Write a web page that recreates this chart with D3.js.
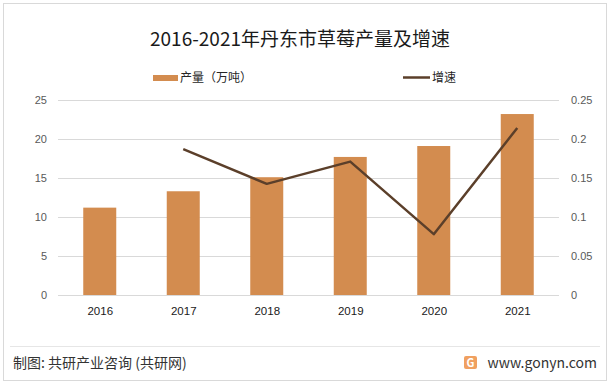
<!DOCTYPE html>
<html>
<head>
<meta charset="utf-8">
<script src="https://cdn.jsdelivr.net/npm/d3@7"></script>
<style>
  body { margin: 0; background: #fff; }
  svg { display: block; font-family: "Noto Sans CJK SC", "Noto Sans", sans-serif; }
</style>
</head>
<body>
<div id="chart"></div>
<script>
// data
var years = ["2016", "2017", "2018", "2019", "2020", "2021"];
var output = [11.2, 13.3, 15.1, 17.7, 19.1, 23.2];          // 产量（万吨）
var growth = [null, 0.187, 0.1425, 0.171, 0.078, 0.214];    // 增速
var leftTicks = [0, 5, 10, 15, 20, 25];
var rightTicks = [0, 0.05, 0.1, 0.15, 0.2, 0.25];

var W = 611, H = 384;
var margin = {top: 100, right: 52, bottom: 89, left: 58},
    width = W - margin.left - margin.right,
    height = H - margin.top - margin.bottom;

var barColor = "#d38c4f", lineColor = "#5b3f2a";

var root = d3.select("#chart").append("svg")
    .attr("width", W)
    .attr("height", H);

// outer frame
root.append("rect")
    .attr("x", 3.5).attr("y", 3.5)
    .attr("width", 603).attr("height", 377)
    .attr("fill", "none")
    .attr("stroke", "#d9d9d9");

// title
root.append("text")
    .attr("x", 300).attr("y", 46)
    .attr("text-anchor", "middle")
    .style("font-size", "19px")
    .attr("fill", "#1a1a1a")
    .text("2016-2021年丹东市草莓产量及增速");

// legend
root.append("rect")
    .attr("x", 153).attr("y", 75)
    .attr("width", 25).attr("height", 6)
    .attr("fill", barColor);
root.append("text")
    .attr("x", 180).attr("y", 82)
    .style("font-size", "12px")
    .attr("fill", "#262626")
    .text("产量（万吨）");
root.append("line")
    .attr("x1", 403).attr("x2", 430)
    .attr("y1", 77.5).attr("y2", 77.5)
    .attr("stroke", lineColor)
    .attr("stroke-width", 2.5);
root.append("text")
    .attr("x", 432).attr("y", 82)
    .style("font-size", "12px")
    .attr("fill", "#262626")
    .text("增速");

var svg = root.append("g")
    .attr("transform", "translate(" + margin.left + "," + margin.top + ")");

var xc = d3.scalePoint()
    .domain(years)
    .range([0, width])
    .padding(0.5);

var y = d3.scaleLinear().domain([0, 25]).range([height, 0]);
var y2 = d3.scaleLinear().domain([0, 0.25]).range([height, 0]);

// gridlines
svg.append("g")
    .selectAll("line")
    .data(leftTicks)
    .enter().append("line")
    .attr("x1", 0).attr("x2", width)
    .attr("y1", function (d) { return Math.round(y(d)) + 0.5; })
    .attr("y2", function (d) { return Math.round(y(d)) + 0.5; })
    .attr("stroke", "#d9d9d9");

// left axis
var yAxis = svg.append("g")
    .call(d3.axisLeft(y).tickValues(leftTicks).tickSize(0).tickPadding(11));
yAxis.select(".domain").remove();
yAxis.selectAll("text").style("font-size", "11px").attr("fill", "#595959");

// right axis
var yAxis2 = svg.append("g")
    .attr("transform", "translate(" + width + ",0)")
    .call(d3.axisRight(y2).tickValues(rightTicks).tickSize(0).tickPadding(12)
        .tickFormat(function (d) { return d3.format("~g")(d); }));
yAxis2.select(".domain").remove();
yAxis2.selectAll("text").style("font-size", "11px").attr("fill", "#595959");

// bars
svg.selectAll("rect.bar")
    .data(years)
    .enter().append("rect")
    .attr("class", "bar")
    .attr("x", function (d) { return xc(d) - 16.5; })
    .attr("width", 33)
    .attr("y", function (d, i) { return y(output[i]); })
    .attr("height", function (d, i) { return height - y(output[i]); })
    .attr("fill", barColor);

// x axis
var xAxis = svg.append("g")
    .attr("transform", "translate(0," + height + ")")
    .call(d3.axisBottom(xc).tickSize(0).tickPadding(12));
xAxis.select(".domain").remove();
xAxis.selectAll("text").style("font-size", "11.5px").attr("fill", "#1a1a1a");

// growth line
var line = d3.line()
    .defined(function (d) { return d.v != null; })
    .x(function (d) { return xc(d.k); })
    .y(function (d) { return y2(d.v); });
svg.append("path")
    .datum(years.map(function (k, i) { return {k: k, v: growth[i]}; }))
    .attr("d", line)
    .attr("fill", "none")
    .attr("stroke", lineColor)
    .attr("stroke-width", 2.5)
    .attr("stroke-linejoin", "round");

// footer
root.append("line")
    .attr("x1", 10).attr("x2", 600)
    .attr("y1", 346.5).attr("y2", 346.5)
    .attr("stroke", "#e6e6e6");
root.append("text")
    .attr("x", 13).attr("y", 368)
    .style("font-size", "14px")
    .attr("fill", "#333")
    .text("制图: 共研产业咨询 (共研网)");
// small logo
root.append("rect")
    .attr("x", 464).attr("y", 356)
    .attr("width", 13).attr("height", 13)
    .attr("rx", 2)
    .attr("fill", "#f0a060");
root.append("text")
    .attr("x", 470.5).attr("y", 367)
    .attr("text-anchor", "middle")
    .style("font-size", "11px")
    .style("font-weight", "bold")
    .attr("fill", "#fff")
    .text("G");
root.append("text")
    .attr("x", 597).attr("y", 368)
    .attr("text-anchor", "end")
    .style("font-size", "14px")
    .attr("fill", "#333")
    .text("www.gonyn.com");
</script>
</body>
</html>
